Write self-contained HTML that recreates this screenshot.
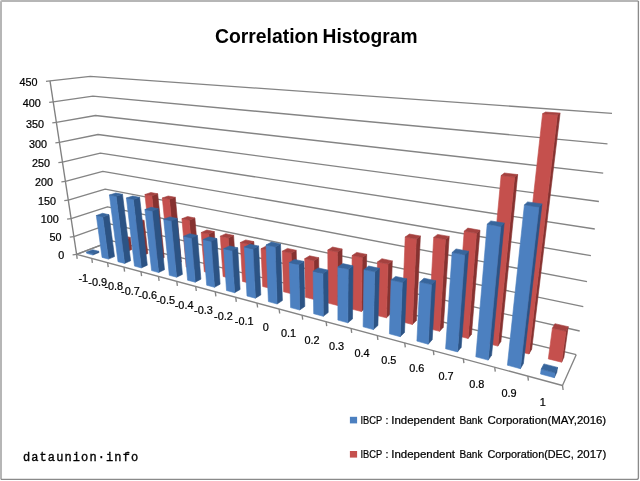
<!DOCTYPE html>
<html><head><meta charset="utf-8"><title>Correlation Histogram</title>
<style>
html,body{margin:0;padding:0;background:#fff;}
body{width:640px;height:481px;overflow:hidden;position:relative;}
svg{position:absolute;left:0;top:0;display:block;}
text{font-family:"Liberation Sans",sans-serif;}
</style></head><body>
<svg width="640" height="481" viewBox="0 0 640 481">
<rect x="0" y="0" width="640" height="481" fill="#fff"/>
<rect x="1" y="1" width="637.6" height="478.4" rx="2.5" ry="2.5" fill="#fff" stroke="none"/>
<path d="M1 479.4 V2 Q1 1 2 1 H638.4" fill="none" stroke="#B6B6B6" stroke-width="2"/>
<path d="M638.4 1 V477.4 Q638.4 479.4 636.4 479.4 H1" fill="none" stroke="#8A8A8A" stroke-width="1.35"/>
<g>
<polyline points="76.6,254.3 112.0,240.8 576.2,354.7" fill="none" stroke="#848484" stroke-width="1.35" stroke-linejoin="round"/>
<polyline points="73.8,236.6 109.7,223.9 579.7,331.0" fill="none" stroke="#848484" stroke-width="1.35" stroke-linejoin="round"/>
<polyline points="71.1,218.6 107.5,206.8 583.3,306.7" fill="none" stroke="#848484" stroke-width="1.35" stroke-linejoin="round"/>
<polyline points="68.3,200.2 105.2,189.2 587.0,281.6" fill="none" stroke="#848484" stroke-width="1.35" stroke-linejoin="round"/>
<polyline points="65.4,181.3 102.8,171.4 590.9,255.7" fill="none" stroke="#848484" stroke-width="1.35" stroke-linejoin="round"/>
<polyline points="62.4,162.1 100.4,153.1 594.8,229.0" fill="none" stroke="#848484" stroke-width="1.35" stroke-linejoin="round"/>
<polyline points="59.4,142.4 98.0,134.5 598.9,201.5" fill="none" stroke="#848484" stroke-width="1.35" stroke-linejoin="round"/>
<polyline points="56.3,122.4 95.5,115.5 603.2,173.1" fill="none" stroke="#848484" stroke-width="1.35" stroke-linejoin="round"/>
<polyline points="53.2,101.8 92.9,96.1 607.5,143.8" fill="none" stroke="#848484" stroke-width="1.35" stroke-linejoin="round"/>
<polyline points="50.0,80.8 90.3,76.3 612.0,113.4" fill="none" stroke="#848484" stroke-width="1.35" stroke-linejoin="round"/>
<line x1="76.6" y1="254.3" x2="50.0" y2="80.8" stroke="#808080" stroke-width="1.35"/>
<polyline points="112.0,240.8 76.6,254.3 562.5,385.5 576.2,354.7" fill="none" stroke="#848484" stroke-width="1.35" stroke-linejoin="round"/>
<line x1="76.6" y1="254.3" x2="72.6" y2="254.8" stroke="#848484" stroke-width="1.35"/>
<line x1="73.8" y1="236.6" x2="69.8" y2="237.1" stroke="#848484" stroke-width="1.35"/>
<line x1="71.1" y1="218.6" x2="67.1" y2="219.1" stroke="#848484" stroke-width="1.35"/>
<line x1="68.3" y1="200.2" x2="64.3" y2="200.7" stroke="#848484" stroke-width="1.35"/>
<line x1="65.4" y1="181.3" x2="61.4" y2="181.8" stroke="#848484" stroke-width="1.35"/>
<line x1="62.4" y1="162.1" x2="58.4" y2="162.6" stroke="#848484" stroke-width="1.35"/>
<line x1="59.4" y1="142.4" x2="55.4" y2="142.9" stroke="#848484" stroke-width="1.35"/>
<line x1="56.3" y1="122.4" x2="52.3" y2="122.9" stroke="#848484" stroke-width="1.35"/>
<line x1="53.2" y1="101.8" x2="49.2" y2="102.3" stroke="#848484" stroke-width="1.35"/>
<line x1="50.0" y1="80.8" x2="46.0" y2="81.3" stroke="#848484" stroke-width="1.35"/>
<line x1="76.6" y1="254.3" x2="77.2" y2="258.8" stroke="#848484" stroke-width="1.35"/>
<line x1="91.8" y1="258.4" x2="92.4" y2="262.9" stroke="#848484" stroke-width="1.35"/>
<line x1="107.6" y1="262.7" x2="108.2" y2="267.2" stroke="#848484" stroke-width="1.35"/>
<line x1="124.0" y1="267.1" x2="124.6" y2="271.6" stroke="#848484" stroke-width="1.35"/>
<line x1="141.0" y1="271.7" x2="141.6" y2="276.2" stroke="#848484" stroke-width="1.35"/>
<line x1="158.5" y1="276.4" x2="159.1" y2="280.9" stroke="#848484" stroke-width="1.35"/>
<line x1="176.8" y1="281.4" x2="177.4" y2="285.9" stroke="#848484" stroke-width="1.35"/>
<line x1="195.7" y1="286.5" x2="196.3" y2="291.0" stroke="#848484" stroke-width="1.35"/>
<line x1="215.3" y1="291.8" x2="215.9" y2="296.3" stroke="#848484" stroke-width="1.35"/>
<line x1="235.7" y1="297.3" x2="236.3" y2="301.8" stroke="#848484" stroke-width="1.35"/>
<line x1="257.0" y1="303.0" x2="257.6" y2="307.5" stroke="#848484" stroke-width="1.35"/>
<line x1="279.1" y1="309.0" x2="279.7" y2="313.5" stroke="#848484" stroke-width="1.35"/>
<line x1="302.1" y1="315.2" x2="302.7" y2="319.7" stroke="#848484" stroke-width="1.35"/>
<line x1="326.1" y1="321.7" x2="326.7" y2="326.2" stroke="#848484" stroke-width="1.35"/>
<line x1="351.1" y1="328.4" x2="351.7" y2="332.9" stroke="#848484" stroke-width="1.35"/>
<line x1="377.3" y1="335.5" x2="377.9" y2="340.0" stroke="#848484" stroke-width="1.35"/>
<line x1="404.7" y1="342.9" x2="405.3" y2="347.4" stroke="#848484" stroke-width="1.35"/>
<line x1="433.3" y1="350.6" x2="433.9" y2="355.1" stroke="#848484" stroke-width="1.35"/>
<line x1="463.3" y1="358.7" x2="463.9" y2="363.2" stroke="#848484" stroke-width="1.35"/>
<line x1="494.7" y1="367.2" x2="495.3" y2="371.7" stroke="#848484" stroke-width="1.35"/>
<line x1="527.8" y1="376.1" x2="528.4" y2="380.6" stroke="#848484" stroke-width="1.35"/>
<line x1="562.5" y1="385.5" x2="563.1" y2="390.0" stroke="#848484" stroke-width="1.35"/>

<polygon points="126.1,251.9 131.8,249.5 130.4,237.4 124.5,239.7" fill="#863230" stroke="#863230" stroke-width="0.6" stroke-linejoin="round"/><polygon points="119.8,250.3 126.1,251.9 124.5,239.7 118.3,238.1" fill="#C5504D" stroke="#C5504D" stroke-width="0.6" stroke-linejoin="round"/><polygon points="118.3,238.1 124.5,239.7 130.4,237.4 124.1,235.9" fill="#A5413F" stroke="#A5413F" stroke-width="0.6" stroke-linejoin="round"/>
<polygon points="142.0,255.9 147.8,253.5 144.1,220.4 138.2,222.5" fill="#863230" stroke="#863230" stroke-width="0.6" stroke-linejoin="round"/><polygon points="135.6,254.3 142.0,255.9 138.2,222.5 131.7,221.1" fill="#C5504D" stroke="#C5504D" stroke-width="0.6" stroke-linejoin="round"/><polygon points="131.7,221.1 138.2,222.5 144.1,220.4 137.5,219.0" fill="#A5413F" stroke="#A5413F" stroke-width="0.6" stroke-linejoin="round"/>
<polygon points="158.6,260.1 164.2,257.6 157.7,193.8 151.8,195.8" fill="#863230" stroke="#863230" stroke-width="0.6" stroke-linejoin="round"/><polygon points="151.9,258.4 158.6,260.1 151.8,195.8 144.9,194.5" fill="#C5504D" stroke="#C5504D" stroke-width="0.6" stroke-linejoin="round"/><polygon points="144.9,194.5 151.8,195.8 157.7,193.8 150.9,192.5" fill="#A5413F" stroke="#A5413F" stroke-width="0.6" stroke-linejoin="round"/>
<polygon points="175.7,264.5 181.3,261.9 175.3,197.3 169.4,199.3" fill="#863230" stroke="#863230" stroke-width="0.6" stroke-linejoin="round"/><polygon points="168.8,262.7 175.7,264.5 169.4,199.3 162.3,198.0" fill="#C5504D" stroke="#C5504D" stroke-width="0.6" stroke-linejoin="round"/><polygon points="162.3,198.0 169.4,199.3 175.3,197.3 168.2,196.0" fill="#A5413F" stroke="#A5413F" stroke-width="0.6" stroke-linejoin="round"/>
<polygon points="193.4,269.0 198.9,266.3 194.9,218.0 189.2,220.2" fill="#863230" stroke="#863230" stroke-width="0.6" stroke-linejoin="round"/><polygon points="186.2,267.1 193.4,269.0 189.2,220.2 181.9,218.7" fill="#C5504D" stroke="#C5504D" stroke-width="0.6" stroke-linejoin="round"/><polygon points="181.9,218.7 189.2,220.2 194.9,218.0 187.6,216.5" fill="#A5413F" stroke="#A5413F" stroke-width="0.6" stroke-linejoin="round"/>
<polygon points="211.7,273.6 217.1,270.8 214.3,231.6 208.8,234.1" fill="#863230" stroke="#863230" stroke-width="0.6" stroke-linejoin="round"/><polygon points="204.3,271.7 211.7,273.6 208.8,234.1 201.2,232.5" fill="#C5504D" stroke="#C5504D" stroke-width="0.6" stroke-linejoin="round"/><polygon points="201.2,232.5 208.8,234.1 214.3,231.6 206.8,230.0" fill="#A5413F" stroke="#A5413F" stroke-width="0.6" stroke-linejoin="round"/>
<polygon points="230.8,278.4 236.1,275.5 233.6,235.4 228.2,237.9" fill="#863230" stroke="#863230" stroke-width="0.6" stroke-linejoin="round"/><polygon points="223.1,276.5 230.8,278.4 228.2,237.9 220.3,236.2" fill="#C5504D" stroke="#C5504D" stroke-width="0.6" stroke-linejoin="round"/><polygon points="220.3,236.2 228.2,237.9 233.6,235.4 225.8,233.7" fill="#A5413F" stroke="#A5413F" stroke-width="0.6" stroke-linejoin="round"/>
<polygon points="250.5,283.4 255.7,280.4 253.8,241.6 248.4,244.2" fill="#863230" stroke="#863230" stroke-width="0.6" stroke-linejoin="round"/><polygon points="242.5,281.4 250.5,283.4 248.4,244.2 240.3,242.5" fill="#C5504D" stroke="#C5504D" stroke-width="0.6" stroke-linejoin="round"/><polygon points="240.3,242.5 248.4,244.2 253.8,241.6 245.7,239.9" fill="#A5413F" stroke="#A5413F" stroke-width="0.6" stroke-linejoin="round"/>
<polygon points="271.0,288.6 276.0,285.5 274.6,247.8 269.5,250.6" fill="#863230" stroke="#863230" stroke-width="0.6" stroke-linejoin="round"/><polygon points="262.7,286.5 271.0,288.6 269.5,250.6 261.0,248.7" fill="#C5504D" stroke="#C5504D" stroke-width="0.6" stroke-linejoin="round"/><polygon points="261.0,248.7 269.5,250.6 274.6,247.8 266.2,246.0" fill="#A5413F" stroke="#A5413F" stroke-width="0.6" stroke-linejoin="round"/>
<polygon points="292.3,294.0 297.2,290.8 296.2,250.3 291.1,253.1" fill="#863230" stroke="#863230" stroke-width="0.6" stroke-linejoin="round"/><polygon points="283.6,291.8 292.3,294.0 291.1,253.1 282.3,251.2" fill="#C5504D" stroke="#C5504D" stroke-width="0.6" stroke-linejoin="round"/><polygon points="282.3,251.2 291.1,253.1 296.2,250.3 287.4,248.4" fill="#A5413F" stroke="#A5413F" stroke-width="0.6" stroke-linejoin="round"/>
<polygon points="314.4,299.6 319.1,296.2 318.7,257.7 313.8,260.7" fill="#863230" stroke="#863230" stroke-width="0.6" stroke-linejoin="round"/><polygon points="305.4,297.3 314.4,299.6 313.8,260.7 304.7,258.7" fill="#C5504D" stroke="#C5504D" stroke-width="0.6" stroke-linejoin="round"/><polygon points="304.7,258.7 313.8,260.7 318.7,257.7 309.6,255.8" fill="#A5413F" stroke="#A5413F" stroke-width="0.6" stroke-linejoin="round"/>
<polygon points="337.4,305.4 342.0,301.9 342.1,249.0 337.4,252.0" fill="#863230" stroke="#863230" stroke-width="0.6" stroke-linejoin="round"/><polygon points="328.1,303.1 337.4,305.4 337.4,252.0 327.8,250.0" fill="#C5504D" stroke="#C5504D" stroke-width="0.6" stroke-linejoin="round"/><polygon points="327.8,250.0 337.4,252.0 342.1,249.0 332.6,247.0" fill="#A5413F" stroke="#A5413F" stroke-width="0.6" stroke-linejoin="round"/>
<polygon points="361.4,311.5 365.8,307.9 366.7,254.4 362.2,257.5" fill="#863230" stroke="#863230" stroke-width="0.6" stroke-linejoin="round"/><polygon points="351.7,309.1 361.4,311.5 362.2,257.5 352.1,255.5" fill="#C5504D" stroke="#C5504D" stroke-width="0.6" stroke-linejoin="round"/><polygon points="352.1,255.5 362.2,257.5 366.7,254.4 356.7,252.4" fill="#A5413F" stroke="#A5413F" stroke-width="0.6" stroke-linejoin="round"/>
<polygon points="386.4,317.8 390.5,314.0 392.3,260.9 388.0,264.1" fill="#863230" stroke="#863230" stroke-width="0.6" stroke-linejoin="round"/><polygon points="376.2,315.3 386.4,317.8 388.0,264.1 377.5,261.9" fill="#C5504D" stroke="#C5504D" stroke-width="0.6" stroke-linejoin="round"/><polygon points="377.5,261.9 388.0,264.1 392.3,260.9 381.9,258.7" fill="#A5413F" stroke="#A5413F" stroke-width="0.6" stroke-linejoin="round"/>
<polygon points="412.4,324.5 416.4,320.5 420.4,236.0 416.3,239.0" fill="#863230" stroke="#863230" stroke-width="0.6" stroke-linejoin="round"/><polygon points="401.9,321.8 412.4,324.5 416.3,239.0 405.2,237.0" fill="#C5504D" stroke="#C5504D" stroke-width="0.6" stroke-linejoin="round"/><polygon points="405.2,237.0 416.3,239.0 420.4,236.0 409.4,234.0" fill="#A5413F" stroke="#A5413F" stroke-width="0.6" stroke-linejoin="round"/>
<polygon points="439.6,331.3 443.3,327.2 449.2,236.4 445.4,239.5" fill="#863230" stroke="#863230" stroke-width="0.6" stroke-linejoin="round"/><polygon points="428.6,328.6 439.6,331.3 445.4,239.5 433.7,237.4" fill="#C5504D" stroke="#C5504D" stroke-width="0.6" stroke-linejoin="round"/><polygon points="433.7,237.4 445.4,239.5 449.2,236.4 437.6,234.4" fill="#A5413F" stroke="#A5413F" stroke-width="0.6" stroke-linejoin="round"/>
<polygon points="468.1,338.5 471.5,334.2 480.0,230.2 476.5,233.3" fill="#863230" stroke="#863230" stroke-width="0.6" stroke-linejoin="round"/><polygon points="456.5,335.6 468.1,338.5 476.5,233.3 464.2,231.2" fill="#C5504D" stroke="#C5504D" stroke-width="0.6" stroke-linejoin="round"/><polygon points="464.2,231.2 476.5,233.3 480.0,230.2 467.8,228.1" fill="#A5413F" stroke="#A5413F" stroke-width="0.6" stroke-linejoin="round"/>
<polygon points="497.8,346.1 500.9,341.6 517.7,174.6 514.6,177.1" fill="#863230" stroke="#863230" stroke-width="0.6" stroke-linejoin="round"/><polygon points="485.7,343.0 497.8,346.1 514.6,177.1 501.1,175.5" fill="#C5504D" stroke="#C5504D" stroke-width="0.6" stroke-linejoin="round"/><polygon points="501.1,175.5 514.6,177.1 517.7,174.6 504.4,173.0" fill="#A5413F" stroke="#A5413F" stroke-width="0.6" stroke-linejoin="round"/>
<polygon points="528.9,354.0 531.7,349.2 560.1,113.1 557.4,114.8" fill="#863230" stroke="#863230" stroke-width="0.6" stroke-linejoin="round"/><polygon points="516.3,350.8 528.9,354.0 557.4,114.8 542.6,113.7" fill="#C5504D" stroke="#C5504D" stroke-width="0.6" stroke-linejoin="round"/><polygon points="542.6,113.7 557.4,114.8 560.1,113.1 545.5,112.0" fill="#A5413F" stroke="#A5413F" stroke-width="0.6" stroke-linejoin="round"/>
<polygon points="561.6,362.2 563.9,357.3 568.2,326.7 565.9,331.3" fill="#863230" stroke="#863230" stroke-width="0.6" stroke-linejoin="round"/><polygon points="548.3,358.9 561.6,362.2 565.9,331.3 552.4,328.2" fill="#C5504D" stroke="#C5504D" stroke-width="0.6" stroke-linejoin="round"/><polygon points="552.4,328.2 565.9,331.3 568.2,326.7 554.9,323.7" fill="#A5413F" stroke="#A5413F" stroke-width="0.6" stroke-linejoin="round"/>
<polygon points="92.8,255.0 99.0,252.5 98.8,251.3 92.6,253.7" fill="#2C5384" stroke="#2C5384" stroke-width="0.6" stroke-linejoin="round"/><polygon points="86.7,253.3 92.8,255.0 92.6,253.7 86.5,252.1" fill="#4C80C0" stroke="#4C80C0" stroke-width="0.6" stroke-linejoin="round"/><polygon points="86.5,252.1 92.6,253.7 98.8,251.3 92.7,249.7" fill="#37659C" stroke="#37659C" stroke-width="0.6" stroke-linejoin="round"/>
<polygon points="108.4,259.1 114.5,256.6 109.0,214.7 102.7,216.9" fill="#2C5384" stroke="#2C5384" stroke-width="0.6" stroke-linejoin="round"/><polygon points="102.1,257.4 108.4,259.1 102.7,216.9 96.3,215.5" fill="#4C80C0" stroke="#4C80C0" stroke-width="0.6" stroke-linejoin="round"/><polygon points="96.3,215.5 102.7,216.9 109.0,214.7 102.6,213.3" fill="#37659C" stroke="#37659C" stroke-width="0.6" stroke-linejoin="round"/>
<polygon points="124.6,263.4 130.6,260.8 122.5,194.3 116.1,196.3" fill="#2C5384" stroke="#2C5384" stroke-width="0.6" stroke-linejoin="round"/><polygon points="118.0,261.7 124.6,263.4 116.1,196.3 109.4,195.0" fill="#4C80C0" stroke="#4C80C0" stroke-width="0.6" stroke-linejoin="round"/><polygon points="109.4,195.0 116.1,196.3 122.5,194.3 115.8,193.0" fill="#37659C" stroke="#37659C" stroke-width="0.6" stroke-linejoin="round"/>
<polygon points="141.3,267.9 147.3,265.2 139.6,197.3 133.3,199.4" fill="#2C5384" stroke="#2C5384" stroke-width="0.6" stroke-linejoin="round"/><polygon points="134.5,266.1 141.3,267.9 133.3,199.4 126.4,198.0" fill="#4C80C0" stroke="#4C80C0" stroke-width="0.6" stroke-linejoin="round"/><polygon points="126.4,198.0 133.3,199.4 139.6,197.3 132.7,196.0" fill="#37659C" stroke="#37659C" stroke-width="0.6" stroke-linejoin="round"/>
<polygon points="158.6,272.5 164.5,269.7 158.3,208.7 152.1,210.9" fill="#2C5384" stroke="#2C5384" stroke-width="0.6" stroke-linejoin="round"/><polygon points="151.6,270.6 158.6,272.5 152.1,210.9 144.9,209.5" fill="#4C80C0" stroke="#4C80C0" stroke-width="0.6" stroke-linejoin="round"/><polygon points="144.9,209.5 152.1,210.9 158.3,208.7 151.1,207.3" fill="#37659C" stroke="#37659C" stroke-width="0.6" stroke-linejoin="round"/>
<polygon points="176.6,277.2 182.4,274.4 177.2,218.5 171.1,220.8" fill="#2C5384" stroke="#2C5384" stroke-width="0.6" stroke-linejoin="round"/><polygon points="169.3,275.3 176.6,277.2 171.1,220.8 163.7,219.2" fill="#4C80C0" stroke="#4C80C0" stroke-width="0.6" stroke-linejoin="round"/><polygon points="163.7,219.2 171.1,220.8 177.2,218.5 169.8,216.9" fill="#37659C" stroke="#37659C" stroke-width="0.6" stroke-linejoin="round"/>
<polygon points="195.2,282.2 200.9,279.2 197.4,235.4 191.4,238.0" fill="#2C5384" stroke="#2C5384" stroke-width="0.6" stroke-linejoin="round"/><polygon points="187.6,280.2 195.2,282.2 191.4,238.0 183.7,236.2" fill="#4C80C0" stroke="#4C80C0" stroke-width="0.6" stroke-linejoin="round"/><polygon points="183.7,236.2 191.4,238.0 197.4,235.4 189.7,233.7" fill="#37659C" stroke="#37659C" stroke-width="0.6" stroke-linejoin="round"/>
<polygon points="214.5,287.3 220.1,284.2 216.9,238.6 211.1,241.3" fill="#2C5384" stroke="#2C5384" stroke-width="0.6" stroke-linejoin="round"/><polygon points="206.7,285.2 214.5,287.3 211.1,241.3 203.1,239.5" fill="#4C80C0" stroke="#4C80C0" stroke-width="0.6" stroke-linejoin="round"/><polygon points="203.1,239.5 211.1,241.3 216.9,238.6 209.0,236.9" fill="#37659C" stroke="#37659C" stroke-width="0.6" stroke-linejoin="round"/>
<polygon points="234.6,292.7 240.1,289.5 237.7,247.8 232.0,250.6" fill="#2C5384" stroke="#2C5384" stroke-width="0.6" stroke-linejoin="round"/><polygon points="226.5,290.5 234.6,292.7 232.0,250.6 223.7,248.7" fill="#4C80C0" stroke="#4C80C0" stroke-width="0.6" stroke-linejoin="round"/><polygon points="223.7,248.7 232.0,250.6 237.7,247.8 229.4,245.9" fill="#37659C" stroke="#37659C" stroke-width="0.6" stroke-linejoin="round"/>
<polygon points="255.4,298.2 260.8,294.9 258.6,246.0 253.0,248.9" fill="#2C5384" stroke="#2C5384" stroke-width="0.6" stroke-linejoin="round"/><polygon points="247.0,296.0 255.4,298.2 253.0,248.9 244.3,247.0" fill="#4C80C0" stroke="#4C80C0" stroke-width="0.6" stroke-linejoin="round"/><polygon points="244.3,247.0 253.0,248.9 258.6,246.0 250.0,244.2" fill="#37659C" stroke="#37659C" stroke-width="0.6" stroke-linejoin="round"/>
<polygon points="277.1,304.0 282.4,300.5 280.5,244.0 275.1,246.9" fill="#2C5384" stroke="#2C5384" stroke-width="0.6" stroke-linejoin="round"/><polygon points="268.4,301.6 277.1,304.0 275.1,246.9 266.0,245.0" fill="#4C80C0" stroke="#4C80C0" stroke-width="0.6" stroke-linejoin="round"/><polygon points="266.0,245.0 275.1,246.9 280.5,244.0 271.5,242.1" fill="#37659C" stroke="#37659C" stroke-width="0.6" stroke-linejoin="round"/>
<polygon points="299.7,310.0 304.8,306.4 303.9,261.4 298.7,264.6" fill="#2C5384" stroke="#2C5384" stroke-width="0.6" stroke-linejoin="round"/><polygon points="290.6,307.6 299.7,310.0 298.7,264.6 289.3,262.5" fill="#4C80C0" stroke="#4C80C0" stroke-width="0.6" stroke-linejoin="round"/><polygon points="289.3,262.5 298.7,264.6 303.9,261.4 294.6,259.4" fill="#37659C" stroke="#37659C" stroke-width="0.6" stroke-linejoin="round"/>
<polygon points="323.3,316.3 328.2,312.5 327.9,270.1 322.9,273.4" fill="#2C5384" stroke="#2C5384" stroke-width="0.6" stroke-linejoin="round"/><polygon points="313.7,313.7 323.3,316.3 322.9,273.4 313.1,271.2" fill="#4C80C0" stroke="#4C80C0" stroke-width="0.6" stroke-linejoin="round"/><polygon points="313.1,271.2 322.9,273.4 327.9,270.1 318.2,267.9" fill="#37659C" stroke="#37659C" stroke-width="0.6" stroke-linejoin="round"/>
<polygon points="347.8,322.8 352.5,318.9 353.0,265.8 348.2,269.2" fill="#2C5384" stroke="#2C5384" stroke-width="0.6" stroke-linejoin="round"/><polygon points="337.9,320.1 347.8,322.8 348.2,269.2 337.9,266.9" fill="#4C80C0" stroke="#4C80C0" stroke-width="0.6" stroke-linejoin="round"/><polygon points="337.9,266.9 348.2,269.2 353.0,265.8 342.8,263.6" fill="#37659C" stroke="#37659C" stroke-width="0.6" stroke-linejoin="round"/>
<polygon points="373.4,329.6 377.9,325.5 379.4,268.3 374.7,271.8" fill="#2C5384" stroke="#2C5384" stroke-width="0.6" stroke-linejoin="round"/><polygon points="363.1,326.8 373.4,329.6 374.7,271.8 364.0,269.5" fill="#4C80C0" stroke="#4C80C0" stroke-width="0.6" stroke-linejoin="round"/><polygon points="364.0,269.5 374.7,271.8 379.4,268.3 368.7,266.0" fill="#37659C" stroke="#37659C" stroke-width="0.6" stroke-linejoin="round"/>
<polygon points="400.2,336.7 404.5,332.4 406.7,278.8 402.3,282.5" fill="#2C5384" stroke="#2C5384" stroke-width="0.6" stroke-linejoin="round"/><polygon points="389.4,333.8 400.2,336.7 402.3,282.5 391.1,280.0" fill="#4C80C0" stroke="#4C80C0" stroke-width="0.6" stroke-linejoin="round"/><polygon points="391.1,280.0 402.3,282.5 406.7,278.8 395.6,276.4" fill="#37659C" stroke="#37659C" stroke-width="0.6" stroke-linejoin="round"/>
<polygon points="428.2,344.2 432.2,339.7 435.6,280.7 431.5,284.5" fill="#2C5384" stroke="#2C5384" stroke-width="0.6" stroke-linejoin="round"/><polygon points="416.9,341.1 428.2,344.2 431.5,284.5 419.8,282.0" fill="#4C80C0" stroke="#4C80C0" stroke-width="0.6" stroke-linejoin="round"/><polygon points="419.8,282.0 431.5,284.5 435.6,280.7 424.0,278.2" fill="#37659C" stroke="#37659C" stroke-width="0.6" stroke-linejoin="round"/>
<polygon points="457.5,351.9 461.2,347.3 468.5,251.3 464.7,254.8" fill="#2C5384" stroke="#2C5384" stroke-width="0.6" stroke-linejoin="round"/><polygon points="445.6,348.8 457.5,351.9 464.7,254.8 452.1,252.5" fill="#4C80C0" stroke="#4C80C0" stroke-width="0.6" stroke-linejoin="round"/><polygon points="452.1,252.5 464.7,254.8 468.5,251.3 456.0,248.9" fill="#37659C" stroke="#37659C" stroke-width="0.6" stroke-linejoin="round"/>
<polygon points="488.2,360.1 491.6,355.2 504.2,223.1 500.8,226.4" fill="#2C5384" stroke="#2C5384" stroke-width="0.6" stroke-linejoin="round"/><polygon points="475.8,356.8 488.2,360.1 500.8,226.4 487.2,224.2" fill="#4C80C0" stroke="#4C80C0" stroke-width="0.6" stroke-linejoin="round"/><polygon points="487.2,224.2 500.8,226.4 504.2,223.1 490.8,220.9" fill="#37659C" stroke="#37659C" stroke-width="0.6" stroke-linejoin="round"/>
<polygon points="520.4,368.7 523.4,363.5 542.0,203.9 539.0,207.0" fill="#2C5384" stroke="#2C5384" stroke-width="0.6" stroke-linejoin="round"/><polygon points="507.4,365.2 520.4,368.7 539.0,207.0 524.4,204.9" fill="#4C80C0" stroke="#4C80C0" stroke-width="0.6" stroke-linejoin="round"/><polygon points="524.4,204.9 539.0,207.0 542.0,203.9 527.6,201.9" fill="#37659C" stroke="#37659C" stroke-width="0.6" stroke-linejoin="round"/>
<polygon points="554.3,377.7 556.8,372.3 557.5,367.4 554.9,372.8" fill="#2C5384" stroke="#2C5384" stroke-width="0.6" stroke-linejoin="round"/><polygon points="540.5,374.0 554.3,377.7 554.9,372.8 541.2,369.1" fill="#4C80C0" stroke="#4C80C0" stroke-width="0.6" stroke-linejoin="round"/><polygon points="541.2,369.1 554.9,372.8 557.5,367.4 543.9,363.9" fill="#37659C" stroke="#37659C" stroke-width="0.6" stroke-linejoin="round"/>
</g>
<g>
<text y="43.1" font-size="19.6" font-weight="bold" fill="#000"><tspan x="214.9" textLength="103.4" lengthAdjust="spacingAndGlyphs">Correlation</tspan> <tspan x="322.6" textLength="94.9" lengthAdjust="spacingAndGlyphs">Histogram</tspan></text>
<text x="64.2" y="258.7" font-size="10.2" text-anchor="end" font-weight="normal" style='font-family:"Liberation Sans", sans-serif' fill="#000" stroke="#000" stroke-width="0.22" textLength="6.0" lengthAdjust="spacingAndGlyphs">0</text>
<text x="61.4" y="241.1" font-size="10.2" text-anchor="end" font-weight="normal" style='font-family:"Liberation Sans", sans-serif' fill="#000" stroke="#000" stroke-width="0.22" textLength="12.0" lengthAdjust="spacingAndGlyphs">50</text>
<text x="58.7" y="223.2" font-size="10.2" text-anchor="end" font-weight="normal" style='font-family:"Liberation Sans", sans-serif' fill="#000" stroke="#000" stroke-width="0.22" textLength="18.0" lengthAdjust="spacingAndGlyphs">100</text>
<text x="55.9" y="204.9" font-size="10.2" text-anchor="end" font-weight="normal" style='font-family:"Liberation Sans", sans-serif' fill="#000" stroke="#000" stroke-width="0.22" textLength="18.0" lengthAdjust="spacingAndGlyphs">150</text>
<text x="53.0" y="186.2" font-size="10.2" text-anchor="end" font-weight="normal" style='font-family:"Liberation Sans", sans-serif' fill="#000" stroke="#000" stroke-width="0.22" textLength="18.0" lengthAdjust="spacingAndGlyphs">200</text>
<text x="50.0" y="167.0" font-size="10.2" text-anchor="end" font-weight="normal" style='font-family:"Liberation Sans", sans-serif' fill="#000" stroke="#000" stroke-width="0.22" textLength="18.0" lengthAdjust="spacingAndGlyphs">250</text>
<text x="47.0" y="147.5" font-size="10.2" text-anchor="end" font-weight="normal" style='font-family:"Liberation Sans", sans-serif' fill="#000" stroke="#000" stroke-width="0.22" textLength="18.0" lengthAdjust="spacingAndGlyphs">300</text>
<text x="43.9" y="127.5" font-size="10.2" text-anchor="end" font-weight="normal" style='font-family:"Liberation Sans", sans-serif' fill="#000" stroke="#000" stroke-width="0.22" textLength="18.0" lengthAdjust="spacingAndGlyphs">350</text>
<text x="40.8" y="107.1" font-size="10.2" text-anchor="end" font-weight="normal" style='font-family:"Liberation Sans", sans-serif' fill="#000" stroke="#000" stroke-width="0.22" textLength="18.0" lengthAdjust="spacingAndGlyphs">400</text>
<text x="37.6" y="86.2" font-size="10.2" text-anchor="end" font-weight="normal" style='font-family:"Liberation Sans", sans-serif' fill="#000" stroke="#000" stroke-width="0.22" textLength="18.0" lengthAdjust="spacingAndGlyphs">450</text>
<text x="83.3" y="281.6" font-size="10.9" text-anchor="middle" font-weight="normal" style='font-family:"Liberation Sans", sans-serif' fill="#000" stroke="#000" stroke-width="0.22">-1</text>
<text x="97.7" y="285.8" font-size="10.9" text-anchor="middle" font-weight="normal" style='font-family:"Liberation Sans", sans-serif' fill="#000" stroke="#000" stroke-width="0.22">-0.9</text>
<text x="113.8" y="290.2" font-size="10.9" text-anchor="middle" font-weight="normal" style='font-family:"Liberation Sans", sans-serif' fill="#000" stroke="#000" stroke-width="0.22">-0.8</text>
<text x="130.4" y="294.7" font-size="10.9" text-anchor="middle" font-weight="normal" style='font-family:"Liberation Sans", sans-serif' fill="#000" stroke="#000" stroke-width="0.22">-0.7</text>
<text x="147.7" y="299.3" font-size="10.9" text-anchor="middle" font-weight="normal" style='font-family:"Liberation Sans", sans-serif' fill="#000" stroke="#000" stroke-width="0.22">-0.6</text>
<text x="165.6" y="304.2" font-size="10.9" text-anchor="middle" font-weight="normal" style='font-family:"Liberation Sans", sans-serif' fill="#000" stroke="#000" stroke-width="0.22">-0.5</text>
<text x="184.1" y="309.2" font-size="10.9" text-anchor="middle" font-weight="normal" style='font-family:"Liberation Sans", sans-serif' fill="#000" stroke="#000" stroke-width="0.22">-0.4</text>
<text x="203.4" y="314.4" font-size="10.9" text-anchor="middle" font-weight="normal" style='font-family:"Liberation Sans", sans-serif' fill="#000" stroke="#000" stroke-width="0.22">-0.3</text>
<text x="223.4" y="319.8" font-size="10.9" text-anchor="middle" font-weight="normal" style='font-family:"Liberation Sans", sans-serif' fill="#000" stroke="#000" stroke-width="0.22">-0.2</text>
<text x="244.2" y="325.4" font-size="10.9" text-anchor="middle" font-weight="normal" style='font-family:"Liberation Sans", sans-serif' fill="#000" stroke="#000" stroke-width="0.22">-0.1</text>
<text x="265.9" y="331.3" font-size="10.9" text-anchor="middle" font-weight="normal" style='font-family:"Liberation Sans", sans-serif' fill="#000" stroke="#000" stroke-width="0.22">0</text>
<text x="288.5" y="337.3" font-size="10.9" text-anchor="middle" font-weight="normal" style='font-family:"Liberation Sans", sans-serif' fill="#000" stroke="#000" stroke-width="0.22">0.1</text>
<text x="312.0" y="343.7" font-size="10.9" text-anchor="middle" font-weight="normal" style='font-family:"Liberation Sans", sans-serif' fill="#000" stroke="#000" stroke-width="0.22">0.2</text>
<text x="336.5" y="350.3" font-size="10.9" text-anchor="middle" font-weight="normal" style='font-family:"Liberation Sans", sans-serif' fill="#000" stroke="#000" stroke-width="0.22">0.3</text>
<text x="362.1" y="357.2" font-size="10.9" text-anchor="middle" font-weight="normal" style='font-family:"Liberation Sans", sans-serif' fill="#000" stroke="#000" stroke-width="0.22">0.4</text>
<text x="388.8" y="364.4" font-size="10.9" text-anchor="middle" font-weight="normal" style='font-family:"Liberation Sans", sans-serif' fill="#000" stroke="#000" stroke-width="0.22">0.5</text>
<text x="416.8" y="372.0" font-size="10.9" text-anchor="middle" font-weight="normal" style='font-family:"Liberation Sans", sans-serif' fill="#000" stroke="#000" stroke-width="0.22">0.6</text>
<text x="446.1" y="379.9" font-size="10.9" text-anchor="middle" font-weight="normal" style='font-family:"Liberation Sans", sans-serif' fill="#000" stroke="#000" stroke-width="0.22">0.7</text>
<text x="476.8" y="388.2" font-size="10.9" text-anchor="middle" font-weight="normal" style='font-family:"Liberation Sans", sans-serif' fill="#000" stroke="#000" stroke-width="0.22">0.8</text>
<text x="509.1" y="396.9" font-size="10.9" text-anchor="middle" font-weight="normal" style='font-family:"Liberation Sans", sans-serif' fill="#000" stroke="#000" stroke-width="0.22">0.9</text>
<text x="542.9" y="406.0" font-size="10.9" text-anchor="middle" font-weight="normal" style='font-family:"Liberation Sans", sans-serif' fill="#000" stroke="#000" stroke-width="0.22">1</text>
<rect x="349.9" y="416.8" width="7.2" height="6.6" fill="#4C80C0"/>
<text y="423.9" font-size="10.6" fill="#000" stroke="#000" stroke-width="0.22"><tspan x="360.5" textLength="21.5" lengthAdjust="spacingAndGlyphs">IBCP</tspan> <tspan x="385.6">:</tspan> <tspan x="391.3" textLength="63.7" lengthAdjust="spacingAndGlyphs">Independent</tspan> <tspan x="459.5" textLength="23.0" lengthAdjust="spacingAndGlyphs">Bank</tspan> <tspan x="487.5" textLength="118.7" lengthAdjust="spacingAndGlyphs">Corporation(MAY,2016)</tspan></text>
<rect x="349.9" y="451" width="7.2" height="6.6" fill="#C5504D"/>
<text y="458.2" font-size="10.6" fill="#000" stroke="#000" stroke-width="0.22"><tspan x="360.5" textLength="21.5" lengthAdjust="spacingAndGlyphs">IBCP</tspan> <tspan x="385.6">:</tspan> <tspan x="391.3" textLength="63.7" lengthAdjust="spacingAndGlyphs">Independent</tspan> <tspan x="459.5" textLength="23.0" lengthAdjust="spacingAndGlyphs">Bank</tspan> <tspan x="487.5" textLength="86.2" lengthAdjust="spacingAndGlyphs">Corporation(DEC,</tspan> <tspan x="577.0" textLength="29.2" lengthAdjust="spacingAndGlyphs">2017)</tspan></text>
<text x="22.9" y="460.8" font-size="12" textLength="115.3" lengthAdjust="spacing" style='font-family:"Liberation Mono",monospace' fill="#000" stroke="#000" stroke-width="0.35">dataunion<tspan dy="-3.2">.</tspan><tspan dy="3.2">info</tspan></text>
</g>
</svg>
</body></html>
